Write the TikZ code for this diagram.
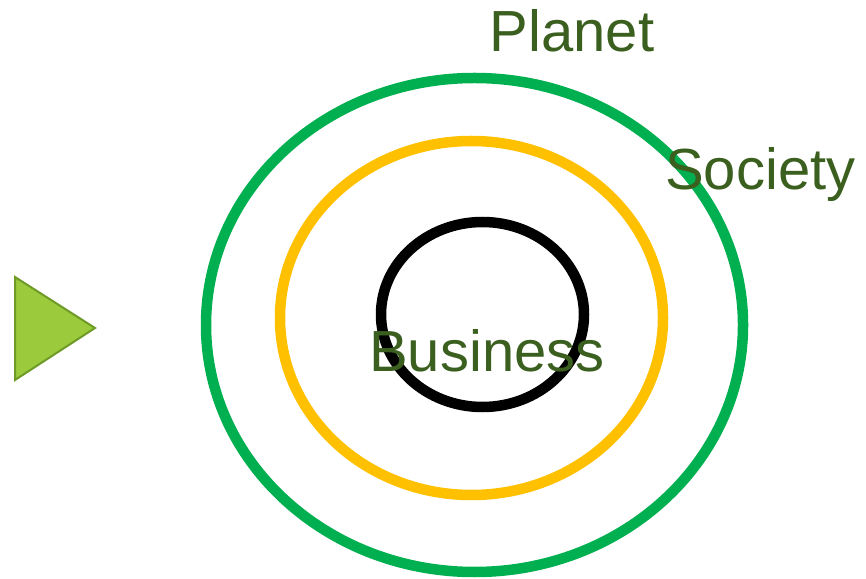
\documentclass[tikz,border=0pt]{standalone}
\usepackage{fontspec}
\setmainfont{Liberation Sans}
\definecolor{ringgreen}{HTML}{00B050}
\definecolor{ringorange}{HTML}{FFC000}
\definecolor{txtgreen}{HTML}{3A5F1E}
\definecolor{trifill}{HTML}{9BCB3C}
\definecolor{triedge}{HTML}{6E9A28}
\begin{document}
\begin{tikzpicture}[x=1pt,y=1pt,
  ring/.style={line width=10.5pt},
  lbl/.style={anchor=base west,inner sep=0pt,text=txtgreen,font=\fontsize{58}{58}\selectfont}]
\useasboundingbox (0,0) rectangle (866,578);
\draw[ring,ringgreen] (474.5,253) ellipse [x radius=268.5,y radius=247];
\draw[ring,ringorange] (471.5,260) ellipse [x radius=191.5,y radius=177];
\draw[ring,black] (482.5,263.5) ellipse [x radius=101.5,y radius=92.5];
\draw[fill=trifill,draw=triedge,line width=2pt,line join=miter] (15,301) -- (15,198) -- (95,250) -- cycle;
\node[lbl] (planet) at (489.5,526) {Planet};
\node[lbl] (society) at (665,388) {Society};
\node[lbl] (business) at (369,206) {Business};
\end{tikzpicture}
\end{document}
